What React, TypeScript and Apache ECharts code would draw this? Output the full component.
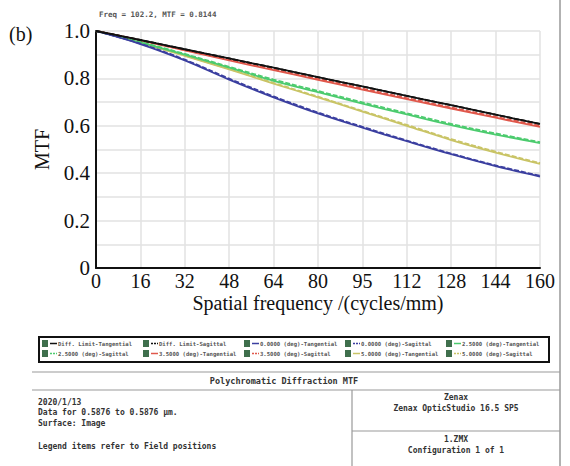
import React, { useEffect, useRef } from "react";
import * as echarts from "echarts";

const freq = [0, 16, 32, 48, 64, 80, 96, 112, 128, 144, 160];
const xTickLabels = ["0", "16", "32", "48", "64", "80", "95", "112", "128", "144", "160"];

const diffT = [1, 0.962, 0.923, 0.884, 0.845, 0.805, 0.766, 0.726, 0.687, 0.647, 0.608];
const diffS = [1, 0.962, 0.923, 0.884, 0.845, 0.805, 0.766, 0.726, 0.687, 0.647, 0.608];
const f00T = [1, 0.945, 0.876, 0.795, 0.72, 0.652, 0.592, 0.535, 0.48, 0.43, 0.386];
const f00S = [1, 0.947, 0.879, 0.799, 0.724, 0.656, 0.596, 0.538, 0.483, 0.433, 0.389];
const f25T = [1, 0.952, 0.9, 0.845, 0.79, 0.742, 0.694, 0.648, 0.603, 0.563, 0.527];
const f25S = [1, 0.954, 0.903, 0.849, 0.795, 0.747, 0.699, 0.653, 0.608, 0.568, 0.531];
const f35T = [1, 0.96, 0.918, 0.876, 0.835, 0.794, 0.753, 0.713, 0.673, 0.634, 0.595];
const f35S = [1, 0.961, 0.92, 0.879, 0.838, 0.798, 0.757, 0.717, 0.677, 0.638, 0.6];
const f50T = [1, 0.95, 0.895, 0.838, 0.778, 0.72, 0.66, 0.6, 0.54, 0.487, 0.439];
const f50S = [1, 0.951, 0.897, 0.84, 0.781, 0.723, 0.663, 0.604, 0.544, 0.491, 0.443];

const seriesNames = [
  "Diff. Limit-Tangential",
  "Diff. Limit-Sagittal",
  "0.0000 (deg)-Tangential",
  "0.0000 (deg)-Sagittal",
  "2.5000 (deg)-Tangential",
  "2.5000 (deg)-Sagittal",
  "3.5000 (deg)-Tangential",
  "3.5000 (deg)-Sagittal",
  "5.0000 (deg)-Tangential",
  "5.0000 (deg)-Sagittal",
];
const seriesValues = [diffT, diffS, f00T, f00S, f25T, f25S, f35T, f35S, f50T, f50S];
const seriesColors = [
  "#111111", "#111111",
  "#3b3fa0", "#3b3fa0",
  "#4ccb6e", "#4ccb6e",
  "#e0584c", "#e0584c",
  "#c9c466", "#c9c466",
];

const leftInfo = ["2020/1/13", "Data for 0.5876 to 0.5876 µm.", "Surface: Image"];

const MONO = "'DejaVu Sans Mono', 'Liberation Mono', monospace";
const SERIF = "'Liberation Serif', 'DejaVu Serif', serif";

export default function App() {
  const ref = useRef<HTMLDivElement>(null);
  useEffect(() => {
    document.body.style.margin = "0";
    if (!ref.current) return;
    const chart = echarts.init(ref.current, null, { renderer: "svg" });

    const series = seriesNames.map((name, i) => ({
      name,
      type: "line",
      data: freq.map((f, j) => [f, seriesValues[i][j]]),
      smooth: 0.35,
      showSymbol: false,
      lineStyle: {
        color: seriesColors[i],
        width: 1.8,
        type: i % 2 === 1 ? [5, 2] : "solid",
      },
      itemStyle: { color: seriesColors[i] },
      z: 10 - Math.floor(i / 2),
    }));

    const legendEls: any[] = [];
    seriesNames.forEach((name, i) => {
      const col = i % 5;
      const row = Math.floor(i / 5);
      const x = 42 + col * 101;
      const y = 340 + row * 10;
      legendEls.push({
        type: "rect",
        shape: { x, y, width: 6, height: 7 },
        style: { fill: "#3f6f4c" },
      });
      legendEls.push({
        type: "line",
        shape: { x1: x + 8, y1: y + 3.5, x2: x + 15, y2: y + 3.5 },
        style: { stroke: seriesColors[i], lineWidth: 1.5, lineDash: i % 2 === 1 ? [2, 1] : null },
      });
      legendEls.push({
        type: "text",
        x: x + 16,
        y: y + 3.5,
        style: {
          text: name,
          font: `bold 5.6px ${MONO}`,
          fill: "#555",
          verticalAlign: "middle",
        },
      });
    });

    const graphic: any[] = [
      {
        type: "text",
        x: 9,
        y: 34,
        style: { text: "(b)", font: `20px ${SERIF}`, fill: "#111", verticalAlign: "middle" },
      },
      {
        type: "text",
        x: 99,
        y: 14,
        style: { text: "Freq = 102.2, MTF = 0.8144", font: `bold 7.5px ${MONO}`, fill: "#555", verticalAlign: "middle" },
      },
      { type: "line", shape: { x1: 560, y1: 0, x2: 560, y2: 466 }, style: { stroke: "#999", lineWidth: 1.5 } },
      {
        type: "rect",
        shape: { x: 39, y: 337, width: 510, height: 25 },
        style: { fill: "#fff", stroke: "#111", lineWidth: 2 },
      },
      ...legendEls,
      { type: "line", shape: { x1: 32, y1: 372, x2: 560, y2: 372 }, style: { stroke: "#999", lineWidth: 1.2 } },
      { type: "line", shape: { x1: 32, y1: 390, x2: 560, y2: 390 }, style: { stroke: "#999", lineWidth: 1.2 } },
      { type: "line", shape: { x1: 352, y1: 390, x2: 352, y2: 466 }, style: { stroke: "#999", lineWidth: 1.2 } },
      { type: "line", shape: { x1: 352, y1: 431, x2: 560, y2: 431 }, style: { stroke: "#999", lineWidth: 1.2 } },
      {
        type: "text",
        x: 284,
        y: 381,
        style: { text: "Polychromatic Diffraction MTF", font: `bold 8.5px ${MONO}`, fill: "#333", align: "center", verticalAlign: "middle" },
      },
      ...leftInfo.map((t, i) => ({
        type: "text",
        x: 38,
        y: 402 + i * 10.5,
        style: { text: t, font: `bold 8px ${MONO}`, fill: "#333", verticalAlign: "middle" },
      })),
      {
        type: "text",
        x: 38,
        y: 446,
        style: { text: "Legend items refer to Field positions", font: `bold 8px ${MONO}`, fill: "#333", verticalAlign: "middle" },
      },
      {
        type: "text",
        x: 456,
        y: 397,
        style: { text: "Zenax", font: `bold 8px ${MONO}`, fill: "#333", align: "center", verticalAlign: "middle" },
      },
      {
        type: "text",
        x: 456,
        y: 408,
        style: { text: "Zenax OpticStudio 16.5 SP5", font: `bold 8px ${MONO}`, fill: "#333", align: "center", verticalAlign: "middle" },
      },
      {
        type: "text",
        x: 456,
        y: 439,
        style: { text: "1.ZMX", font: `bold 8px ${MONO}`, fill: "#333", align: "center", verticalAlign: "middle" },
      },
      {
        type: "text",
        x: 456,
        y: 450,
        style: { text: "Configuration 1 of 1", font: `bold 8px ${MONO}`, fill: "#333", align: "center", verticalAlign: "middle" },
      },
    ];

    chart.setOption({
      animation: false,
      backgroundColor: "#fff",
      grid: { left: 96, right: 30, top: 31, bottom: 198, containLabel: false },
      xAxis: {
        type: "value",
        min: 0,
        max: 160,
        interval: 16,
        name: "Spatial frequency /(cycles/mm)",
        nameLocation: "middle",
        nameGap: 25,
        nameMoveOverlap: false,
        nameTextStyle: { fontFamily: SERIF, fontSize: 20, color: "#111", lineHeight: 20 },
        axisLine: { show: true, lineStyle: { color: "#111", width: 2 } },
        axisTick: { show: false },
        axisLabel: {
          fontFamily: SERIF,
          fontSize: 20,
          lineHeight: 20,
          color: "#111",
          margin: 3,
          formatter: (v: number) => xTickLabels[Math.round(v / 16)] ?? "",
        },
        splitLine: { show: true, lineStyle: { color: "#e2e2e2", width: 1.5 } },
      },
      yAxis: {
        type: "value",
        min: 0,
        max: 1,
        interval: 0.1,
        name: "MTF",
        nameLocation: "middle",
        nameGap: 44,
        nameMoveOverlap: false,
        nameTextStyle: { fontFamily: SERIF, fontSize: 20, color: "#111" },
        axisLine: { show: true, lineStyle: { color: "#111", width: 2 } },
        axisTick: { show: false },
        axisLabel: {
          fontFamily: SERIF,
          fontSize: 21,
          color: "#111",
          margin: 6,
          formatter: (v: number) => {
            const k = Math.round(v * 10);
            if (k % 2 !== 0) return "";
            return k === 0 ? "0" : (k / 10).toFixed(1);
          },
        },
        splitLine: { show: true, lineStyle: { color: "#e2e2e2", width: 1.5 } },
      },
      series,
      graphic,
    });
    return () => chart.dispose();
  }, []);
  return <div ref={ref} style={{ width: 570, height: 466 }} />;
}
